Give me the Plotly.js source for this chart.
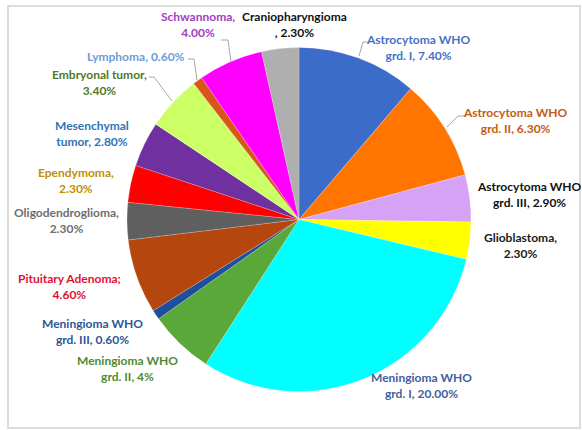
<!DOCTYPE html>
<html>
<head>
<meta charset="utf-8">
<script src="https://cdn.plot.ly/plotly-3.0.1.min.js"></script>
<style>html,body{margin:0;padding:0;background:#fff;}#chart{width:582px;height:430px;}</style>
</head>
<body>
<div id="chart"></div>
<script>
// ---- data ----
var categories = [
  "Astrocytoma WHO grd. I", "Astrocytoma WHO grd. II", "Astrocytoma WHO grd. III",
  "Glioblastoma", "Meningioma WHO grd. I", "Meningioma WHO grd. II",
  "Meningioma WHO grd. III", "Pituitary Adenoma", "Oligodendroglioma",
  "Ependymoma", "Mesenchymal tumor", "Embryonal tumor", "Lymphoma",
  "Schwannoma", "Craniopharyngioma"
];
var values = [7.40, 6.30, 2.90, 2.30, 20.00, 4, 0.60, 4.60, 2.30, 2.30, 2.80, 3.40, 0.60, 4.00, 2.30];
var labelTexts = [
  "Astrocytoma WHO<br>grd. I, 7.40%",
  "Astrocytoma WHO<br>grd. II, 6.30%",
  "Astrocytoma WHO<br>grd. III, 2.90%",
  "Glioblastoma,<br>2.30%",
  "Meningioma WHO<br>grd. I, 20.00%",
  "Meningioma WHO<br>grd. II, 4%",
  "Meningioma WHO<br>grd. III, 0.60%",
  "Pituitary Adenoma;<br>4.60%",
  "Oligodendroglioma,<br>2.30%",
  "Ependymoma,<br>2.30%",
  "Mesenchymal<br>tumor, 2.80%",
  "Embryonal tumor,<br>3.40%",
  "Lymphoma, 0.60%",
  "Schwannoma,<br>4.00%",
  "Craniopharyngioma<br>, 2.30%"
];

// ---- styles ----
var sliceColors = ["#3B6CC9", "#FF7500", "#D6A2F6", "#FFFF00", "#00FFFF", "#5BA83A",
  "#1F4E9A", "#B4460E", "#5F5F5F", "#FF0000", "#7030A0", "#CCFF66", "#D9561A", "#FF00FF", "#AFAFAF"];
var textColors = ["#4472C4", "#C55A11", "#111111", "#1a1a1a", "#44609C", "#4E8A32",
  "#2F5597", "#E01030", "#6E6E6E", "#BF9000", "#2E75B6", "#4E7A2A", "#6F9BD8", "#A040C0", "#111111"];
// label centres in pixels
var labelPx = [[418, 47], [515, 120], [529, 195], [520, 245], [421, 385], [127, 368],
  [93, 331], [69, 286], [66, 221], [76, 180], [92, 133], [99, 82], [136, 57], [198, 25], [294, 25]];
// leader lines in pixels
var leaders = [
  [[359, 56], [363, 42], [368, 42]],
  [[447, 127], [458, 116], [466, 116]],
  [[231, 62], [228, 40], [221, 40]],
  [[197, 80], [194, 59], [188, 59]],
  [[172, 101], [154, 77], [149, 77]]
];

var W = 582, H = 430;
function px(x) { return x / W; }
function py(y) { return 1 - y / H; }

var cx = 299, cy = 219.5, R = 172;

var annotations = labelTexts.map(function (t, i) {
  return {
    text: t, x: px(labelPx[i][0]), y: py(labelPx[i][1]), xref: "paper", yref: "paper",
    xanchor: "center", yanchor: "middle", showarrow: false, align: "center",
    font: { family: "Lato, 'Open Sans', sans-serif", size: 12, color: textColors[i], weight: "bold" }
  };
});

var shapes = [{
  type: "rect", xref: "paper", yref: "paper", x0: px(8), x1: px(580), y0: py(428), y1: py(6),
  line: { color: "#dcdcdc", width: 2 }, fillcolor: "rgba(0,0,0,0)", layer: "below"
}];
leaders.forEach(function (pts) {
  var d = pts.map(function (p, k) { return (k ? "L" : "M") + px(p[0]) + "," + py(p[1]); }).join(" ");
  shapes.push({ type: "path", xref: "paper", yref: "paper", path: d, line: { color: "#a6a6a6", width: 1 } });
});

var trace = {
  type: "pie", labels: categories, values: values, sort: false, direction: "clockwise",
  rotation: 0, textinfo: "none", hoverinfo: "label+value",
  marker: { colors: sliceColors, line: { color: "rgba(255,255,255,0.4)", width: 0.5 } },
  domain: { x: [px(cx - R), px(cx + R)], y: [py(cy + R), py(cy - R)] },
  showlegend: false
};

var layout = {
  width: W, height: H, margin: { l: 0, r: 0, t: 0, b: 0 },
  paper_bgcolor: "#ffffff", showlegend: false,
  annotations: annotations, shapes: shapes
};

Plotly.newPlot("chart", [trace], layout, { staticPlot: true, displayModeBar: false });
</script>
</body>
</html>
